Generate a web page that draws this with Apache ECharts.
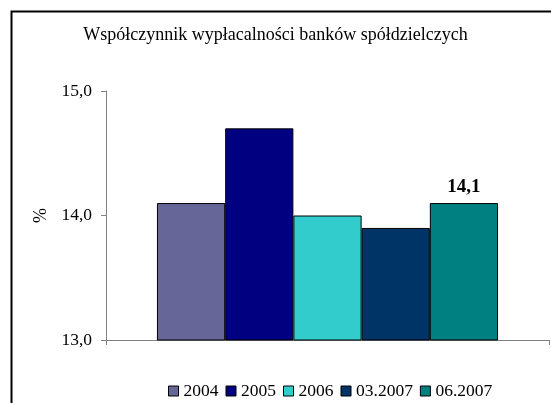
<!DOCTYPE html>
<html>
<head>
<meta charset="utf-8">
<script src="https://cdn.jsdelivr.net/npm/echarts@6/dist/echarts.min.js"></script>
<style>
  html, body { margin: 0; padding: 0; background: #fff; }
  #chart { width: 551px; height: 403px; }
</style>
</head>
<body>
<div id="chart"></div>
<script>
// Solvency ratio of cooperative banks, one bar per period
const categories = [''];
const periods = ['2004', '2005', '2006', '03.2007', '06.2007'];
const ratios = [14.1, 14.7, 14.0, 13.9, 14.1];
const colors = ['#666699', '#000080', '#33CCCC', '#003366', '#008080'];
const yTicks = { min: 13, max: 15, step: 1 };

const serif = '"Liberation Serif", "Times New Roman", serif';
const fmt = v => v.toFixed(1).replace('.', ',');

const chart = echarts.init(document.getElementById('chart'), null, { renderer: 'canvas' });

const series = periods.map((name, i) => ({
  name: name,
  type: 'bar',
  data: [ratios[i]],
  barGap: '0%',
  barCategoryGap: '23%',
  itemStyle: { color: colors[i], borderColor: '#000', borderWidth: 1 },
  label: {
    show: i === periods.length - 1,
    position: 'top',
    distance: 6,
    formatter: p => fmt(p.value),
    fontFamily: serif,
    fontSize: 19,
    fontWeight: 'bold',
    color: '#000'
  }
}));

chart.setOption({
  animation: false,
  backgroundColor: '#fff',
  textStyle: { fontFamily: serif },
  graphic: [{
    type: 'rect',
    left: 9, top: 9,
    shape: { width: 600, height: 500 },
    style: { fill: 'none', stroke: '#000', lineWidth: 2 },
    silent: true
  }],
  title: {
    text: 'Współczynnik wypłacalności banków spółdzielczych',
    left: 'center',
    top: 21,
    textStyle: { fontFamily: serif, fontSize: 18, fontWeight: 'normal', color: '#000' }
  },
  legend: {
    top: 377,
    left: 163,
    itemWidth: 10,
    itemHeight: 10,
    itemGap: 7,
    icon: 'rect',
    textStyle: { fontFamily: serif, fontSize: 17.5, color: '#000' },
    data: periods.map((p, i) => ({ name: p, itemStyle: { color: colors[i], borderColor: '#000', borderWidth: 1 } }))
  },
  grid: { left: 106, right: 2, top: 91, bottom: 63, containLabel: false },
  xAxis: {
    type: 'category',
    data: categories,
    axisLine: { lineStyle: { color: '#808080', width: 1 } },
    axisTick: { show: true, length: 5, lineStyle: { color: '#808080' } },
    axisLabel: { show: false }
  },
  yAxis: {
    type: 'value',
    min: yTicks.min,
    max: yTicks.max,
    interval: yTicks.step,
    name: '%',
    nameLocation: 'middle',
    nameRotate: 90,
    nameGap: 54,
    nameTextStyle: { fontFamily: serif, fontSize: 18, color: '#000' },
    axisLine: { show: true, lineStyle: { color: '#808080', width: 1 } },
    axisTick: { show: true, length: 5, lineStyle: { color: '#808080' } },
    axisLabel: { margin: 14, formatter: v => fmt(v), fontFamily: serif, fontSize: 17.5, color: '#000' },
    splitLine: { show: false }
  },
  series: series
});
</script>
</body>
</html>
